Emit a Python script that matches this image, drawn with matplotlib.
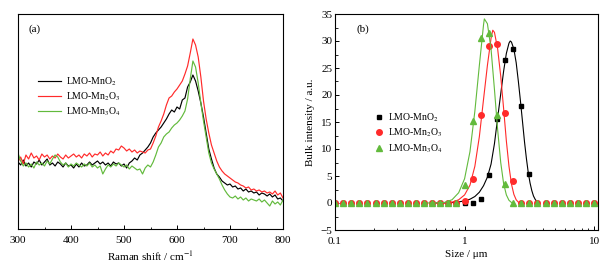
import numpy as np
import matplotlib
matplotlib.use('Agg')
import matplotlib.pyplot as plt
from matplotlib.ticker import MultipleLocator, LogLocator, NullFormatter

plt.rcParams.update({
    "font.family": ["Liberation Serif", "DejaVu Serif"],
    "mathtext.fontset": "stix",
    "font.size": 8,
    "axes.linewidth": 0.8,
})

# ---- (a) Raman spectra (arbitrary units) ----
raman_shift = list(range(300, 805, 5))

raman_mno2 = [67, 64, 69, 63, 66, 62, 67, 65, 69, 64, 67, 70, 64, 66, 63, 67, 65, 62, 66, 63,
              64, 61, 65, 62, 66, 63, 64, 67, 64, 66, 68, 65, 67, 64, 66, 63, 67, 65, 66, 63,
              65, 61, 66, 68, 71, 69, 74, 76, 79, 82, 86, 92, 96, 99, 102, 106, 110, 115, 119, 117,
              122, 120, 129, 131, 142, 147, 154, 148, 138, 126, 112, 96, 80, 70, 61, 55, 52, 48, 46, 44,
              45, 42, 43, 40, 41, 38, 40, 37, 38, 36, 37, 34, 36, 35, 33, 35, 32, 34, 30, 31,
              28]

raman_mn2o3 = [67, 72, 65, 74, 70, 76, 71, 73, 69, 75, 72, 74, 70, 73, 71, 75, 72, 70, 74, 71,
               73, 75, 72, 74, 71, 75, 73, 76, 72, 75, 74, 77, 73, 76, 74, 78, 76, 80, 79, 83,
               81, 78, 80, 77, 79, 76, 78, 77, 76, 79, 80, 86, 93, 102, 108, 115, 124, 131, 133, 137,
               140, 144, 148, 155, 163, 176, 190, 184, 172, 152, 128, 110, 96, 84, 76, 68, 62, 58, 55, 53,
               51, 49, 47, 46, 44, 43, 41, 42, 39, 40, 38, 39, 37, 38, 36, 37, 35, 38, 34, 36,
               31]

raman_mn3o4 = [76, 68, 63, 66, 62, 65, 61, 67, 64, 66, 63, 68, 65, 70, 74, 72, 67, 64, 66, 62,
               65, 63, 66, 64, 62, 65, 63, 66, 62, 64, 61, 63, 55, 60, 64, 62, 65, 63, 66, 64,
               62, 64, 60, 63, 61, 59, 60, 55, 61, 64, 62, 67, 74, 82, 86, 92, 95, 97, 101, 104,
               106, 109, 113, 118, 130, 150, 168, 162, 146, 126, 108, 92, 76, 66, 60, 55, 50, 44, 39, 35,
               32, 31, 33, 30, 32, 29, 31, 28, 30, 29, 28, 30, 27, 29, 26, 23, 28, 25, 27, 24,
               29]

# ---- (b) particle size distribution ----
size_bins = [0.1, 0.1155, 0.1334, 0.154, 0.1778, 0.2054, 0.2371, 0.2738, 0.3162, 0.3652,
             0.4217, 0.487, 0.5623, 0.6494, 0.7499, 0.866, 1.0, 1.155, 1.334, 1.54,
             1.778, 2.054, 2.371, 2.738, 3.162, 3.652, 4.217, 4.87, 5.623, 6.494,
             7.499, 8.66, 10.0]

pts_mno2 = [0] * 17 + [0.0, 0.8, 5.1, 15.5, 26.5, 28.5, 18.0, 5.3] + [0] * 8
pts_mn2o3 = [0] * 16 + [0.3, 4.4, 16.3, 29.0, 29.5, 16.7, 4.0] + [0] * 10
pts_mn3o4 = [0] * 15 + [0.0, 3.3, 15.2, 30.5, 31.5, 16.3, 3.5] + [0] * 11

fit_x_mno2 = [0.6, 0.7, 0.8, 0.9, 1.0, 1.1, 1.2, 1.3, 1.4, 1.5, 1.6, 1.7, 1.8, 1.9, 2.0, 2.1,
              2.2, 2.25, 2.3, 2.4, 2.5, 2.6, 2.7, 2.8, 2.9, 3.0, 3.1, 3.2, 3.3, 3.4, 3.5, 3.6, 3.7]
fit_y_mno2 = [0.0, 0.02, 0.08, 0.2, 0.4, 0.7, 1.2, 2.0, 3.2, 4.8, 7.2, 11.0, 15.8, 20.2, 24.4, 27.7,
              29.6, 30.0, 29.8, 28.5, 26.0, 22.5, 18.8, 15.0, 11.3, 8.2, 5.6, 3.7, 2.3, 1.3, 0.7, 0.3, 0.05]

fit_x_mn2o3 = [0.6, 0.7, 0.8, 0.9, 1.0, 1.1, 1.2, 1.3, 1.4, 1.5, 1.6, 1.65, 1.7, 1.8, 1.9, 2.0,
               2.1, 2.2, 2.3, 2.4, 2.5, 2.6, 2.7]
fit_y_mn2o3 = [0.0, 0.02, 0.15, 0.6, 1.5, 3.3, 6.8, 12.3, 19.2, 25.5, 30.5, 32.0, 31.6, 28.5, 23.5, 17.5,
               11.5, 6.8, 3.5, 1.6, 0.6, 0.15, 0.0]

fit_x_mn3o4 = [0.5, 0.6, 0.7, 0.8, 0.9, 1.0, 1.1, 1.2, 1.3, 1.4, 1.42, 1.5, 1.6, 1.7, 1.8, 1.9,
               2.0, 2.1, 2.2, 2.3]
fit_y_mn3o4 = [0.0, 0.02, 0.1, 0.6, 1.9, 4.5, 9.5, 17.0, 25.5, 33.0, 34.1, 33.2, 28.5, 21.0, 13.5, 7.5,
               3.6, 1.5, 0.5, 0.1]

labels = ["LMO-MnO$_2$", "LMO-Mn$_2$O$_3$", "LMO-Mn$_3$O$_4$"]
colors = ["#000000", "#ff2a2a", "#62ba3c"]

fig = plt.figure(figsize=(6.14, 2.66), dpi=100)
ax1 = fig.add_axes([18 / 614, 37 / 266, 265 / 614, 215 / 266])
ax2 = fig.add_axes([335 / 614, 36 / 266, 263 / 614, 216 / 266])

# (a)
for ys, c, lab in zip([raman_mno2, raman_mn2o3, raman_mn3o4], colors, labels):
    ax1.plot(raman_shift, ys, color=c, lw=0.85, label=lab)
ax1.set_xlim(300, 800)
ax1.set_ylim(0, 215)
ax1.set_yticks([])
ax1.xaxis.set_major_locator(MultipleLocator(100))
ax1.xaxis.set_minor_locator(MultipleLocator(50))
ax1.tick_params(axis='x', which='both', direction='in', top=False)
ax1.tick_params(axis='x', which='major', length=3, width=0.7, pad=5)
ax1.tick_params(axis='x', which='minor', length=1.8, width=0.6)
ax1.set_xlabel("Raman shift / cm$^{-1}$", labelpad=3)
ax1.text(0.04, 0.93, "(a)", transform=ax1.transAxes, ha='left', va='center')
ax1.legend(loc='upper left', bbox_to_anchor=(0.075, 0.715), frameon=False, fontsize=7,
           handlelength=2.4, handletextpad=0.45, labelspacing=0.28,
           borderpad=0, borderaxespad=0)

# (b)
markers = ['s', 'o', '^']
sizes = [3.2, 4.0, 4.2]
for px, py, fx, fy, c, m, ms, lab in zip(
        [size_bins] * 3, [pts_mno2, pts_mn2o3, pts_mn3o4],
        [fit_x_mno2, fit_x_mn2o3, fit_x_mn3o4], [fit_y_mno2, fit_y_mn2o3, fit_y_mn3o4],
        colors, markers, sizes, labels):
    ax2.plot(fx, fy, color=c, lw=0.8)
    ax2.plot(px, py, ls='none', marker=m, ms=ms, color=c, mec=c, label=lab)
ax2.set_xscale('log')
ax2.set_xlim(0.1, 10.7)
ax2.set_ylim(-5, 35)
ax2.set_xticks([0.1, 1, 10])
ax2.set_xticklabels(["0.1", "1", "10"])
ax2.xaxis.set_minor_locator(LogLocator(base=10, subs=np.arange(2, 10)))
ax2.xaxis.set_minor_formatter(NullFormatter())
ax2.yaxis.set_major_locator(MultipleLocator(5))
ax2.yaxis.set_minor_locator(MultipleLocator(2.5))
ax2.tick_params(which='both', direction='in', top=False, right=False)
ax2.tick_params(which='major', length=3, width=0.7)
ax2.tick_params(axis='x', which='major', pad=5)
ax2.tick_params(axis='y', which='major', pad=2)
ax2.tick_params(which='minor', length=1.8, width=0.6)
ax2.set_xlabel("Size / μm", labelpad=3)
ax2.set_ylabel("Bulk intensity / a.u.", labelpad=4)
ax2.text(0.08, 0.93, "(b)", transform=ax2.transAxes, ha='left', va='center')
ax2.legend(loc='upper left', bbox_to_anchor=(0.15, 0.55), frameon=False, numpoints=1, fontsize=7,
           handlelength=1.0, handletextpad=0.35, labelspacing=0.3,
           borderpad=0, borderaxespad=0)

fig.savefig("out.png", dpi=100)
